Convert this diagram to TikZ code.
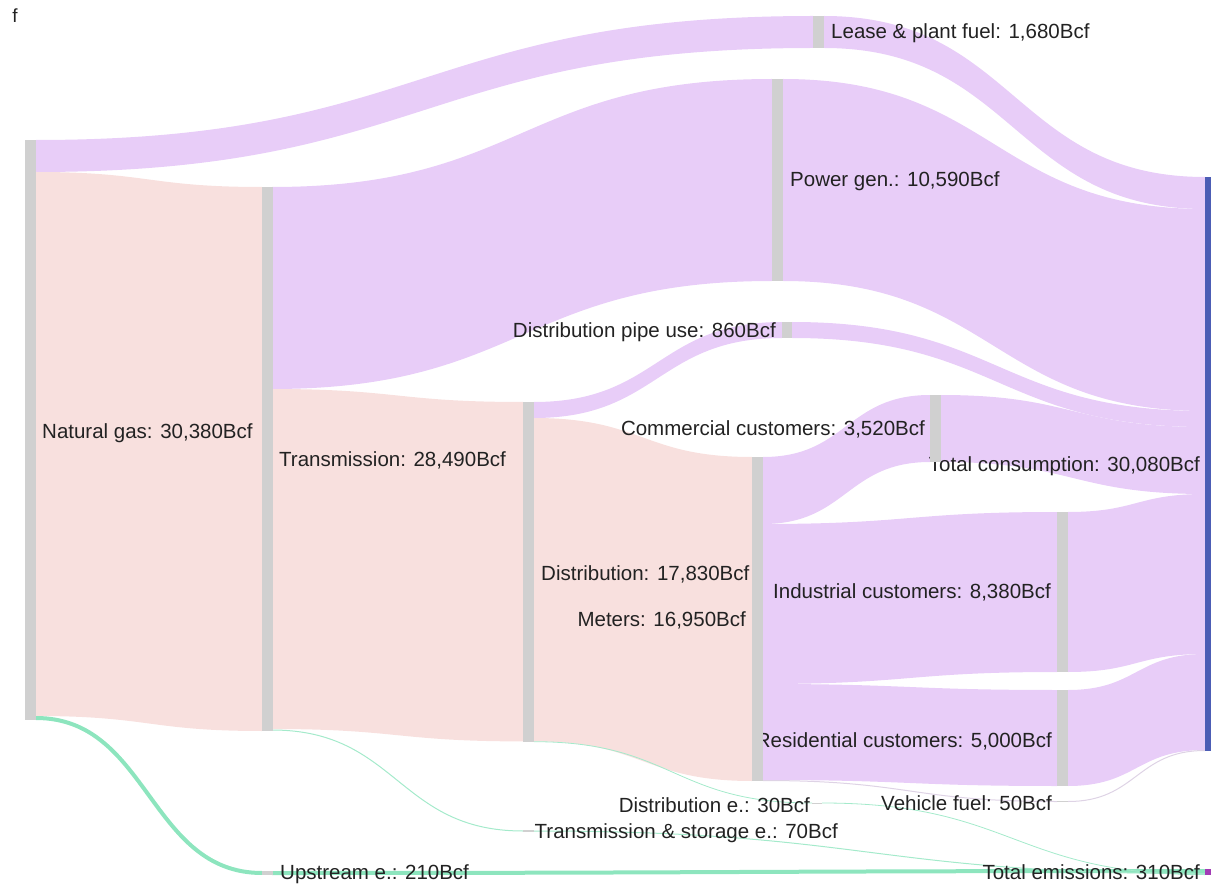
\documentclass[tikz,border=0pt]{standalone}
\usepackage{fontspec}
\setmainfont{Liberation Sans}

\definecolor{gaspink}{HTML}{F8E0DE}
\definecolor{gaspurple}{HTML}{E8CDF8}
\definecolor{bargray}{HTML}{D0D0D0}
\definecolor{emgreen}{HTML}{8DE5BE}
\definecolor{consblue}{HTML}{4C5DB5}
\definecolor{emmag}{HTML}{A23BB5}
\definecolor{lbltext}{HTML}{222222}

\newcommand{\band}[7]{\fill [#7] (#1,#2) .. controls ({(#1+#4)/2},#2) and ({(#1+#4)/2},#5) .. (#4,#5) -- (#4,#6) .. controls ({(#1+#4)/2},#6) and ({(#1+#4)/2},#3) .. (#1,#3) -- cycle;}
\newcommand{\strand}[6]{\draw [#6, line width=#5] (#1,#2) .. controls ({(#1+#3)/2},#2) and ({(#1+#3)/2},#4) .. (#3,#4);}

\begin{document}
\begin{tikzpicture}[
  x=1pt, y=-1pt,
  bar/.style={rectangle, fill=bargray, draw=none, inner sep=0pt, minimum width=11pt},
  lbl/.style={inner sep=0pt, text=lbltext, font=\fontsize{20.5}{24}\selectfont},
]

\useasboundingbox (0,0) rectangle (1211,885);

\band{36}{140}{172}{813}{16}{48}{gaspurple}
\band{36}{172}{716}{262}{187}{731}{gaspink}
\strand{36}{718}{262}{873}{4pt}{emgreen}

\band{272}{187}{389}{772}{79}{281}{gaspurple}
\band{272}{389}{729}{523}{402}{741.4}{gaspink}
\strand{272}{730}{523}{831}{1pt}{emgreen!80}

\band{534}{402}{418}{782}{322}{338}{gaspurple}
\band{534}{418}{741.4}{752}{457}{781}{gaspink}
\strand{534}{741.7}{812}{803}{0.8pt}{emgreen!80}

\band{824}{16}{48}{1205}{177}{209}{gaspurple}
\band{783}{79}{281}{1205}{209}{411}{gaspurple}
\band{792}{322}{338}{1205}{411}{427}{gaspurple}

\band{763}{457}{524}{930}{395}{462}{gaspurple}
\band{763}{524}{684}{1057}{512}{672}{gaspurple}
\band{763}{684}{780}{1057}{690}{786}{gaspurple}
\strand{763}{780.5}{1057}{801.5}{1pt}{gaspurple!70!gray!60}

\band{941}{395}{462}{1205}{427}{494}{gaspurple}
\band{1068}{512}{672}{1205}{494}{654}{gaspurple}
\band{1068}{690}{786}{1205}{654}{750}{gaspurple}
\strand{1068}{801.5}{1205}{750.5}{1pt}{gaspurple!70!gray!60}

\strand{272}{873}{1205}{871}{4pt}{emgreen}
\strand{534}{831}{1205}{873.6}{1pt}{emgreen!80}
\strand{822}{803}{1205}{874.6}{0.8pt}{emgreen!80}

\node [lbl, font=\fontsize{19}{22}\selectfont] (fig) at (15,16) {f};

\node [lbl, anchor=west] (lease lbl) at (831,33) {Lease \& plant fuel: 1,680Bcf};
\node [lbl, anchor=west] (power lbl) at (790,181) {Power gen.: 10,590Bcf};
\node [lbl, anchor=east] (pipe lbl) at (776,332) {Distribution pipe use: 860Bcf};
\node [lbl, anchor=west] (gas lbl) at (42,433) {Natural gas: 30,380Bcf};
\node [lbl, anchor=east] (comm lbl) at (925,429) {Commercial customers: 3,520Bcf};
\node [lbl, anchor=west] (trans lbl) at (279,460) {Transmission: 28,490Bcf};
\node [lbl, anchor=east] (cons lbl) at (1200,466) {Total consumption: 30,080Bcf};
\node [lbl, anchor=west] (dist lbl) at (541,574) {Distribution: 17,830Bcf};
\node [lbl, anchor=east] (met lbl) at (746,620) {Meters: 16,950Bcf};
\node [lbl, anchor=east] (ind lbl) at (1051,592) {Industrial customers: 8,380Bcf};
\node [lbl, anchor=east] (res lbl) at (1052,741) {Residential customers: 5,000Bcf};
\node [lbl, anchor=east] (diste lbl) at (810,805) {Distribution e.: 30Bcf};
\node [lbl, anchor=east] (veh lbl) at (1052,803) {Vehicle fuel: 50Bcf};
\node [lbl, anchor=east] (transe lbl) at (838,833) {Transmission \& storage e.: 70Bcf};
\node [lbl, anchor=west] (up lbl) at (280,874) {Upstream e.: 210Bcf};
\node [lbl, anchor=east] (emis lbl) at (1200,872) {Total emissions: 310Bcf};

\node [bar, minimum height=580pt] (gas) at (30.5,430) {};
\node [bar, minimum height=544pt] (trans) at (267,459) {};
\node [bar, minimum height=4pt] (up) at (267,873) {};
\node [bar, minimum height=340pt] (dist) at (528.5,572) {};
\node [bar, minimum height=1.5pt] (transe) at (528.5,831) {};
\node [bar, minimum height=32pt] (lease) at (818.5,32) {};
\node [bar, minimum height=202pt] (power) at (777.5,180) {};
\node [bar, minimum height=16pt, minimum width=10pt] (pipe) at (787,330) {};
\node [bar, minimum height=324pt] (met) at (757.5,619) {};
\node [bar, minimum height=1pt, minimum width=10pt] (diste) at (817,803) {};
\node [bar, minimum height=67pt] (comm) at (935.5,428.5) {};
\node [bar, minimum height=160pt] (ind) at (1062.5,592) {};
\node [bar, minimum height=96pt] (res) at (1062.5,738) {};
\node [bar, minimum height=1pt] (veh) at (1062.5,801.5) {};
\node [bar, fill=consblue, minimum width=6pt, minimum height=574pt] (cons) at (1208,464) {};
\node [bar, fill=emmag, minimum width=6pt, minimum height=6pt] (emis) at (1208,872) {};

\end{tikzpicture}
\end{document}
